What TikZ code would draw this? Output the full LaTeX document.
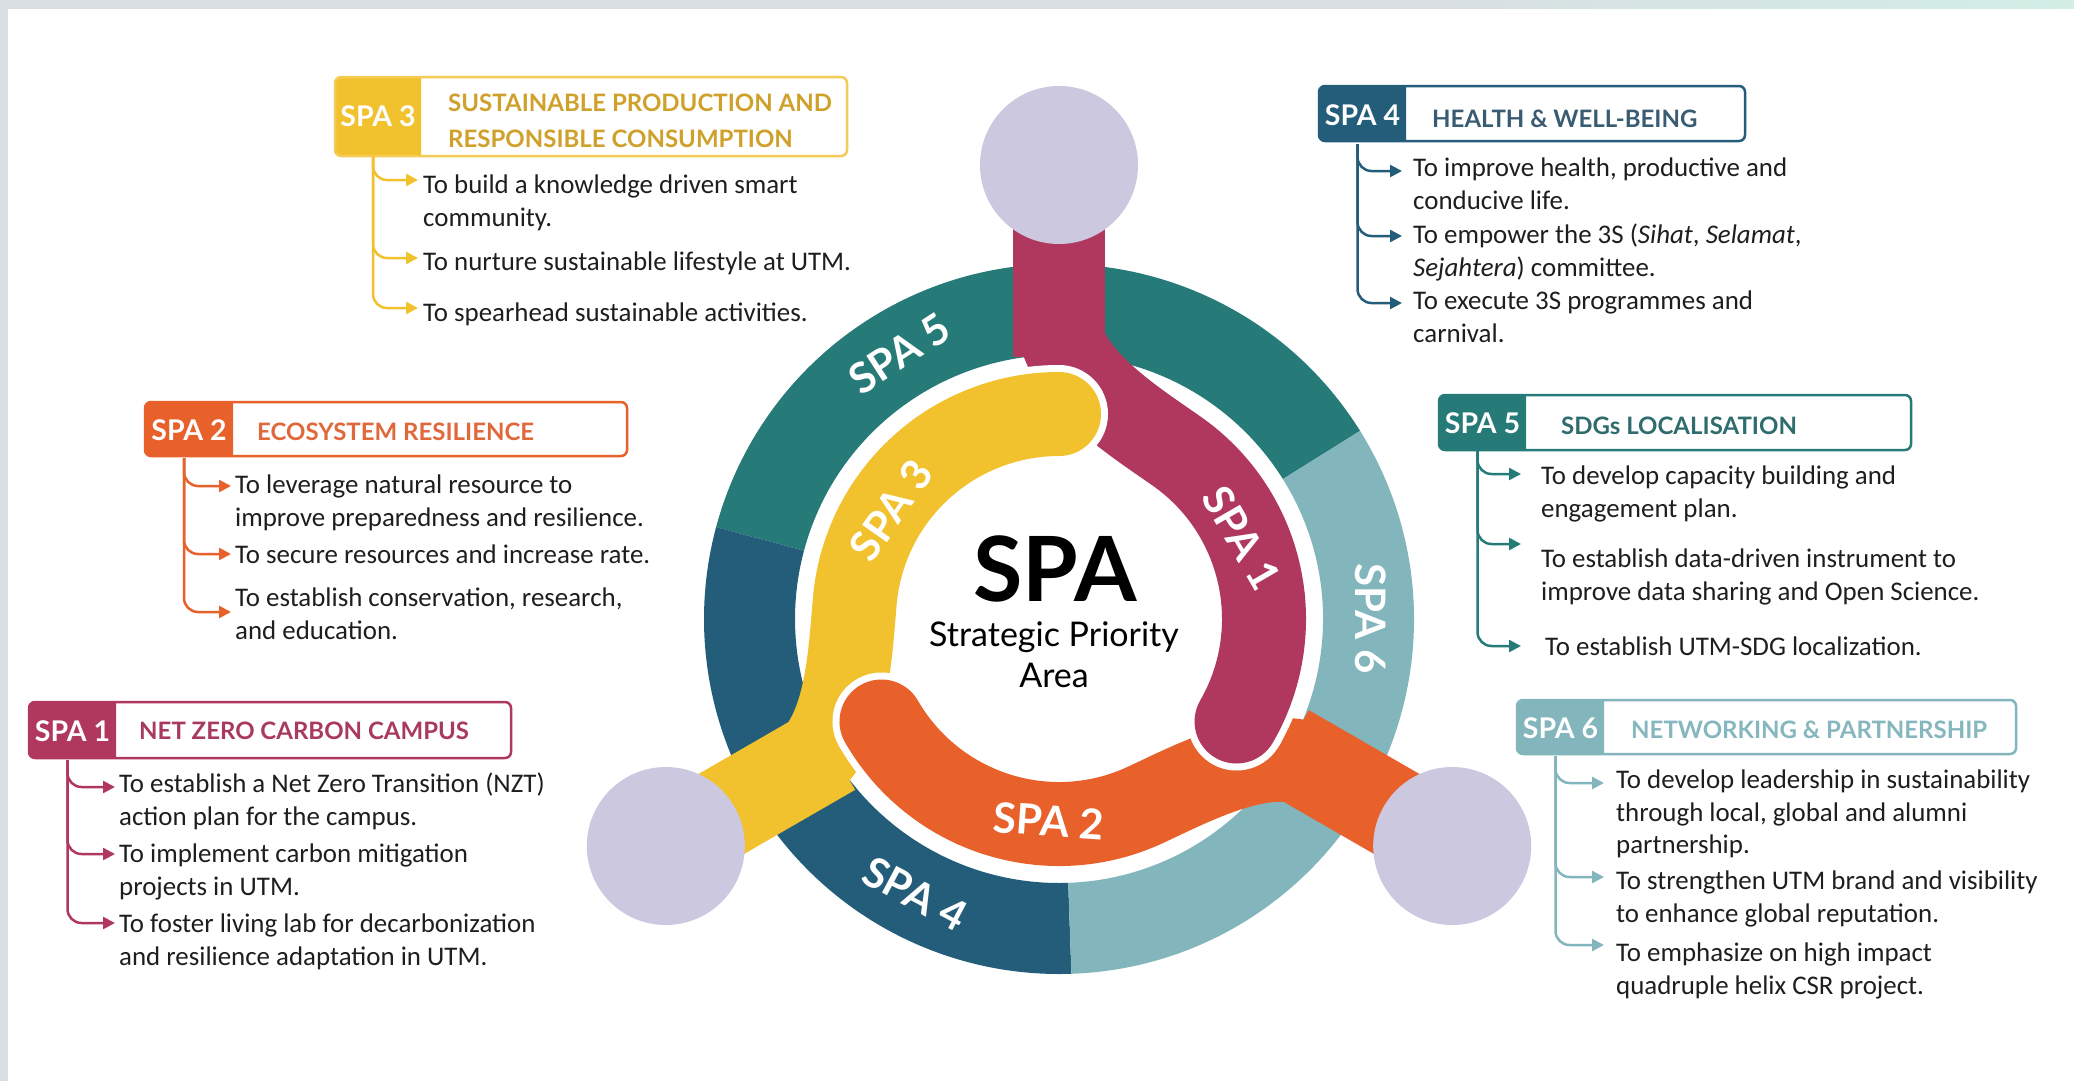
\documentclass[tikz,border=0pt]{standalone}
\usepackage{fontspec}
\setmainfont{Carlito}
\newfontfamily\lato{Lato}
\usetikzlibrary{arrows.meta,calc}
\definecolor{cMag}{HTML}{B0385F}
\definecolor{cMagT}{HTML}{A83A5D}
\definecolor{cOra}{HTML}{E8602A}
\definecolor{cOraT}{HTML}{E0683A}
\definecolor{cYel}{HTML}{F2C12E}
\definecolor{cYelL}{HTML}{F4CB55}
\definecolor{cYelT}{HTML}{CFA12B}
\definecolor{cDb}{HTML}{245D7A}
\definecolor{cDbT}{HTML}{3A5C72}
\definecolor{cTe}{HTML}{267A78}
\definecolor{cTeT}{HTML}{2F6C6D}
\definecolor{cLt}{HTML}{82B5BC}
\definecolor{cLtT}{HTML}{86B7BE}
\definecolor{cLav}{HTML}{CBC8E0}
\definecolor{cTxt}{HTML}{1E1E1E}
\definecolor{cBg}{HTML}{D9DEE3}
\definecolor{cMint}{HTML}{D2EEE5}
\tikzset{
 bodytxt/.style={anchor=north west, inner sep=0pt, align=left, text=cTxt, font=\fontsize{26.9}{32.5}\selectfont},
 tabtxt/.style={anchor=north west, inner sep=0pt, outer sep=0pt, text=white, font=\lato\bfseries\fontsize{28.5}{30}\selectfont},
 ttl/.style={anchor=west, inner sep=0pt, font=\lato\bfseries\fontsize{24}{36}\selectfont, align=left},
 outl/.style={anchor=north west, inner sep=0pt, outer sep=0pt, rounded corners=6pt, line width=2.5pt},
 conn/.style={line width=2.5pt, rounded corners=14pt, -{Triangle[length=12pt,width=12pt]}},
 lbl/.style={text=white, font=\lato\bfseries\fontsize{42}{42}\selectfont, inner sep=0pt},
}
\begin{document}
\begin{tikzpicture}[x=1pt,y=-1pt]
\useasboundingbox (0,0) rectangle (2074,1081);
\fill[cBg] (0,0) rectangle (2074,1081);
\shade[left color=cBg, right color=cMint] (1400,0) rectangle (2074,9);
\fill[white] (8,9) rectangle (2074,1081);

% ---------- central wheel ----------
\begin{scope}[shift={(1059,619)}, y=1pt]
 \fill[cTe] (32:355) arc[start angle=32, end angle=165, radius=355] -- (165:264) arc[start angle=165, end angle=32, radius=264] -- cycle;
 \fill[cDb] (165:355) arc[start angle=165, end angle=272, radius=355] -- (272:264) arc[start angle=272, end angle=165, radius=264] -- cycle;
 \fill[cLt] (272:355) arc[start angle=272, end angle=392, radius=355] -- (392:264) arc[start angle=392, end angle=272, radius=264] -- cycle;
 % arms
 \draw[cMag, line width=92pt] (90:454) -- (90:262);
 \draw[cMag, line width=84pt, line cap=round] (90:300) .. controls (90:245) and ($(55:205)+(145:55)$) .. (55:205) arc[start angle=55, end angle=-30, radius=205];
 \draw[cYel, line width=92pt] (210:454) -- (210:262);
 \draw[cYel, line width=84pt, line cap=round] (210:300) .. controls (210:245) and ($(175:205)+(265:55)$) .. (175:205) arc[start angle=175, end angle=90, radius=205];
 \draw[cOra, line width=92pt] (330:454) -- (330:262);
 \draw[cOra, line width=84pt, line cap=round] (330:300) .. controls (330:245) and ($(295:205)+(25:55)$) .. (295:205) arc[start angle=295, end angle=210, radius=205];
 % outlined ends
 \draw[white, line width=98pt] (125:205) arc[start angle=125, end angle=90, radius=205];
 \fill[white] (90:205) circle (49);
 \draw[cYel, line width=84pt, line cap=round] (125:205) arc[start angle=125, end angle=90, radius=205];
 \draw[white, line width=98pt] (245:205) arc[start angle=245, end angle=210, radius=205];
 \fill[white] (210:205) circle (49);
 \draw[cOra, line width=84pt, line cap=round] (245:205) arc[start angle=245, end angle=210, radius=205];
 \draw[white, line width=98pt] (5:205) arc[start angle=5, end angle=-30, radius=205];
 \fill[white] (-30:205) circle (49);
 \draw[cMag, line width=84pt, line cap=round] (5:205) arc[start angle=5, end angle=-30, radius=205];
 % circles
 \fill[cLav] (90:454) circle (79);
 \fill[cLav] (210:454) circle (79);
 \fill[cLav] (330:454) circle (79);
 % labels
 \node[lbl, rotate=33] (r5) at (121:310) {SPA 5};
 \node[lbl, rotate=-90] (r6) at (0:312) {SPA 6};
 \node[lbl, rotate=-28] (r4) at (-117.6:310) {SPA 4};
 \node[lbl, rotate=55] (r3) at (147:200) {SPA 3};
 \node[lbl, rotate=-60] (r1) at (24:200) {SPA 1};
 \node[lbl, rotate=-4] (r2) at (-93:202) {SPA 2};
 \node[inner sep=0pt, anchor=base, text=black, font=\lato\bfseries\fontsize{90}{90}\selectfont] (spa) at (-4,18) {SPA};
 \node[inner sep=0pt, anchor=base, text=black, font=\lato\fontsize{34}{40}\selectfont] (sp1) at (-5,-27) {Strategic Priority};
 \node[inner sep=0pt, anchor=base, text=black, font=\lato\fontsize{34}{40}\selectfont] (sp2) at (-5,-68) {Area};
\end{scope}

% ---------- SPA 3 ----------
\fill[cYel] (421,77) [rounded corners=6pt] -- (335,77) -- (335,156) [sharp corners] -- (421,156) -- cycle;
\node[outl, draw=cYelL, minimum width=512pt, minimum height=79pt] (o3) at (335,77) {};
\node[tabtxt, minimum width=86pt, minimum height=79pt] (t3) at (335,77) {SPA 3};
\node[ttl, text=cYelT] (h3) at (448,121) {SUSTAINABLE PRODUCTION AND\\RESPONSIBLE CONSUMPTION};
\node[bodytxt] (b3a) at (423,171) {\strut To build a knowledge driven smart\\community.};
\node[bodytxt] (b3b) at (423,248) {\strut To nurture sustainable lifestyle at UTM.};
\node[bodytxt] (b3c) at (423,299) {\strut To spearhead sustainable activities.};
\coordinate (a3a) at (418,180); \coordinate (a3b) at (418,258); \coordinate (a3c) at (418,308);
\foreach \t in {a3a,a3b,a3c} \draw[conn, cYel] ([xshift=-5pt]t3.south) |- (\t);

% ---------- SPA 4 ----------
\fill[cDb] (1406,86) [rounded corners=6pt] -- (1319,86) -- (1319,141) [sharp corners] -- (1406,141) -- cycle;
\node[outl, draw=cDb, minimum width=426pt, minimum height=55pt] (o4) at (1319,86) {};
\node[tabtxt, minimum width=87pt, minimum height=58pt] (t4) at (1319,86) {SPA 4};
\node[ttl, text=cDbT] (h4) at (1432,119) {HEALTH \& WELL-BEING};
\node[bodytxt] (b4a) at (1413,154) {\strut To improve health, productive and\\conducive life.};
\node[bodytxt] (b4b) at (1413,221) {\strut To empower the 3S (\textit{Sihat}, \textit{Selamat},\\\textit{Sejahtera}) committee.};
\node[bodytxt] (b4c) at (1413,287) {\strut To execute 3S programmes and\\carnival.};
\coordinate (a4a) at (1402,171); \coordinate (a4b) at (1402,236); \coordinate (a4c) at (1402,303);
\foreach \t in {a4a,a4b,a4c} \draw[conn, cDb] ([xshift=-5pt]t4.south) |- (\t);

% ---------- SPA 5 ----------
\fill[cTe] (1526,395) [rounded corners=6pt] -- (1439,395) -- (1439,450) [sharp corners] -- (1526,450) -- cycle;
\node[outl, draw=cTe, minimum width=472pt, minimum height=55pt] (o5) at (1439,395) {};
\node[tabtxt, minimum width=87pt, minimum height=56pt] (t5) at (1439,395) {SPA 5};
\node[ttl, text=cTeT] (h5) at (1561,426) {SDGs LOCALISATION};
\node[bodytxt] (b5a) at (1541,462) {\strut To develop capacity building and\\engagement plan.};
\node[bodytxt] (b5b) at (1541,545) {\strut To establish data-driven instrument to\\improve data sharing and Open Science.};
\node[bodytxt] (b5c) at (1545,633) {\strut To establish UTM-SDG localization.};
\coordinate (a5a) at (1521,474); \coordinate (a5b) at (1521,544); \coordinate (a5c) at (1521,646);
\foreach \t in {a5a,a5b,a5c} \draw[conn, cTe] ([xshift=-5pt]t5.south) |- (\t);

% ---------- SPA 6 ----------
\fill[cLt] (1604,700) [rounded corners=6pt] -- (1517,700) -- (1517,754) [sharp corners] -- (1604,754) -- cycle;
\node[outl, draw=cLt, minimum width=499pt, minimum height=54pt] (o6) at (1517,700) {};
\node[tabtxt, minimum width=87pt, minimum height=56pt] (t6) at (1517,700) {SPA 6};
\node[ttl, text=cLtT] (h6) at (1631,730) {NETWORKING \& PARTNERSHIP};
\node[bodytxt] (b6a) at (1616,766) {\strut To develop leadership in sustainability\\through local, global and alumni\\partnership.};
\node[bodytxt] (b6b) at (1616,867) {\strut To strengthen UTM brand and visibility\\to enhance global reputation.};
\node[bodytxt] (b6c) at (1616,939) {\strut To emphasize on high impact\\quadruple helix CSR project.};
\coordinate (a6a) at (1604,783); \coordinate (a6b) at (1604,877); \coordinate (a6c) at (1604,945);
\foreach \t in {a6a,a6b,a6c} \draw[conn, cLt] ([xshift=-5pt]t6.south) |- (\t);

% ---------- SPA 2 ----------
\fill[cOra] (233,402) [rounded corners=6pt] -- (145,402) -- (145,456) [sharp corners] -- (233,456) -- cycle;
\node[outl, draw=cOra, minimum width=482pt, minimum height=54pt] (o2) at (145,402) {};
\node[tabtxt, minimum width=88pt, minimum height=56pt] (t2) at (145,402) {SPA 2};
\node[ttl, text=cOraT] (h2) at (257,432) {ECOSYSTEM RESILIENCE};
\node[bodytxt] (b2a) at (235,471) {\strut To leverage natural resource to\\improve preparedness and resilience.};
\node[bodytxt] (b2b) at (235,541) {\strut To secure resources and increase rate.};
\node[bodytxt] (b2c) at (235,584) {\strut To establish conservation, research,\\and education.};
\coordinate (a2a) at (231,486); \coordinate (a2b) at (231,554); \coordinate (a2c) at (231,612);
\foreach \t in {a2a,a2b,a2c} \draw[conn, cOra] ([xshift=-5pt]t2.south) |- (\t);

% ---------- SPA 1 ----------
\fill[cMag] (116,702) [rounded corners=6pt] -- (29,702) -- (29,758) [sharp corners] -- (116,758) -- cycle;
\node[outl, draw=cMag, minimum width=482pt, minimum height=56pt] (o1) at (29,702) {};
\node[tabtxt, minimum width=87pt, minimum height=58pt] (t1) at (29,702) {SPA 1};
\node[ttl, text=cMagT] (h1) at (139,731) {NET ZERO CARBON CAMPUS};
\node[bodytxt] (b1a) at (119,770) {\strut To establish a Net Zero Transition (NZT)\\action plan for the campus.};
\node[bodytxt] (b1b) at (119,840) {\strut To implement carbon mitigation\\projects in UTM.};
\node[bodytxt] (b1c) at (119,910) {\strut To foster living lab for decarbonization\\and resilience adaptation in UTM.};
\coordinate (a1a) at (115,787); \coordinate (a1b) at (115,854); \coordinate (a1c) at (115,923);
\foreach \t in {a1a,a1b,a1c} \draw[conn, cMag] ([xshift=-5pt]t1.south) |- (\t);
\end{tikzpicture}
\end{document}
